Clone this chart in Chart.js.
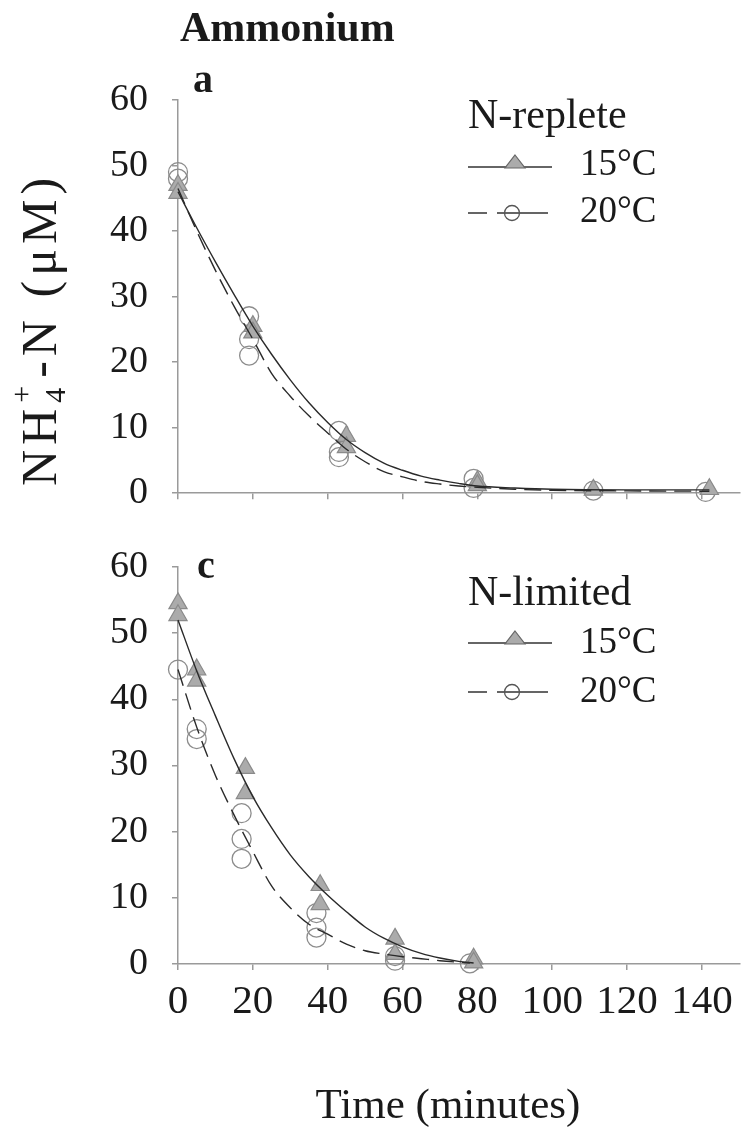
<!DOCTYPE html>
<html><head><meta charset="utf-8">
<script src="https://cdn.jsdelivr.net/npm/chart.js@4.4.0/dist/chart.umd.min.js"></script>
<style>
html,body{margin:0;padding:0;background:#fff;}
body{width:751px;height:1138px;position:relative;overflow:hidden;}
.wrap{position:absolute;left:0;width:751px;}
#w1{top:0;height:540px;}
#w2{top:520px;height:618px;}
canvas{display:block;}
</style></head><body>
<div class="wrap" id="w1"><canvas id="c1" width="751" height="540"></canvas></div>
<div class="wrap" id="w2"><canvas id="c2" width="751" height="618"></canvas></div>
<script>
// ---- tick labels ----
const xTicks = [0, 20, 40, 60, 80, 100, 120, 140];
const yTicks = [0, 10, 20, 30, 40, 50, 60];

// ---- panel a : N-replete ----
const repT15 = [0, 0, 20, 20, 45, 45, 80, 80, 111, 142];
const repN15 = [47, 45.8, 25.5, 24.5, 8.7, 7, 1.8, 1.2, 0.5, 0.6];
const repT20 = [0, 0, 19, 19, 19, 43, 43, 43, 79, 79, 111, 141];
const repN20 = [49, 48, 27, 23.5, 21, 9.5, 6.3, 5.5, 2.2, 0.8, 0.4, 0.2];
const repFitT15 = [0, 5, 10, 15, 20, 25, 30, 35, 40, 45, 50, 55, 60, 65, 70, 75, 80, 90, 100, 120, 142];
const repFitN15 = [46, 40.5, 35.3, 30.3, 25.5, 21.2, 17.3, 13.8, 10.8, 8.2, 6.2, 4.6, 3.5, 2.6, 2.0, 1.5, 1.1, 0.8, 0.6, 0.5, 0.5];
const repFitT20 = [0, 5, 10, 15, 20, 25, 30, 35, 40, 45, 50, 55, 60, 65, 70, 75, 80, 90, 100, 120, 142];
const repFitN20 = [46.5, 40, 34, 28.5, 23.5, 18.3, 14.8, 11.8, 9.2, 6.7, 4.8, 3.3, 2.5, 1.8, 1.4, 1.1, 0.9, 0.6, 0.45, 0.35, 0.3];

// ---- panel c : N-limited ----
const limT15 = [0, 0, 5, 5, 18, 18, 38, 38, 58, 58, 79, 79];
const limN15 = [54.5, 52.7, 44.5, 42.8, 29.6, 25.8, 11.9, 9, 3.8, 1.5, 0.8, 0.2];
const limT20 = [0, 5, 5, 17, 17, 17, 37, 37, 37, 58, 58, 78];
const limN20 = [44.5, 35.5, 34, 22.8, 18.9, 15.9, 7.7, 5.5, 4, 1.2, 0.5, 0.1];
const limFitT15 = [0, 5, 10, 15, 20, 25, 30, 35, 40, 45, 50, 55, 60, 65, 70, 75, 79];
const limFitN15 = [52, 44.3, 37.5, 31, 25.3, 20.6, 16.5, 13.2, 10.4, 7.9, 5.6, 3.9, 2.6, 1.6, 0.9, 0.4, 0.15];
const limFitT20 = [0, 5, 10, 15, 20, 25, 30, 35, 40, 45, 50, 55, 60, 65, 70, 78];
const limFitN20 = [44.5, 35.8, 28.5, 22.5, 17, 11.8, 8.5, 6.0, 4.5, 3.0, 2.0, 1.5, 1.1, 0.8, 0.5, 0.15];

const seriesLabels = ['15°C', '20°C'];

const SERIF = "'Liberation Serif', 'Times New Roman', serif";
const AXIS = '#9a9a9a';
const INK = '#1a1a1a';

function pts(xs, ys) { return xs.map((x, i) => ({ x: x, y: ys[i] })); }

// decorations: titles, panel letters, rich y title, custom legend
const decor = {
  id: 'decor',
  afterDraw(chart, args, o) {
    const ctx = chart.ctx;
    ctx.save();
    ctx.fillStyle = INK;
    (o.texts || []).forEach(t => {
      ctx.font = t.font;
      ctx.textAlign = t.align || 'left';
      ctx.textBaseline = t.baseline || 'alphabetic';
      ctx.fillText(t.text, t.x, t.y);
    });
    if (o.ytitle) {
      const yt = o.ytitle;
      ctx.save();
      ctx.translate(yt.x, yt.y);
      ctx.rotate(-Math.PI / 2);
      ctx.textAlign = 'left';
      ctx.textBaseline = 'alphabetic';
      try { ctx.letterSpacing = yt.spacing + 'px'; } catch (e) {}
      ctx.font = yt.size + 'px ' + SERIF;
      let cx = 0;
      ctx.fillText('NH', cx, 0);
      cx += ctx.measureText('NH').width;
      ctx.font = Math.round(yt.size * 0.6) + 'px ' + SERIF;
      ctx.fillText('4', cx + 1, yt.size * 0.18);
      ctx.fillText('+', cx + 1, -yt.size * 0.5);
      cx += ctx.measureText('4').width + 6;
      ctx.font = yt.size + 'px ' + SERIF;
      ctx.fillText('-N (\u03bcM)', cx, 0);
      ctx.restore();
    }
    if (o.legend) {
      const L = o.legend;
      ctx.font = L.titleFont;
      ctx.textAlign = 'left';
      ctx.textBaseline = 'middle';
      ctx.fillText(L.title, L.x, L.titleY);
      L.rows.forEach((r, i) => {
        ctx.strokeStyle = '#333';
        ctx.lineWidth = 1.4;
        if (r.kind === 'tri') {
          ctx.beginPath();
          ctx.moveTo(L.x, r.y); ctx.lineTo(L.x + 84, r.y); ctx.stroke();
          ctx.beginPath();
          ctx.moveTo(L.x + 47, r.y - 12);
          ctx.lineTo(L.x + 57, r.y + 1);
          ctx.lineTo(L.x + 37, r.y + 1);
          ctx.closePath();
          ctx.fillStyle = '#ababab';
          ctx.fill();
          ctx.strokeStyle = '#666';
          ctx.lineWidth = 1.2;
          ctx.stroke();
        } else {
          ctx.beginPath();
          ctx.moveTo(L.x, r.y); ctx.lineTo(L.x + 19, r.y);
          ctx.moveTo(L.x + 29, r.y); ctx.lineTo(L.x + 80, r.y);
          ctx.stroke();
          ctx.beginPath();
          ctx.arc(L.x + 44, r.y, 7.5, 0, Math.PI * 2);
          ctx.strokeStyle = '#555';
          ctx.lineWidth = 1.3;
          ctx.stroke();
        }
        ctx.fillStyle = INK;
        ctx.font = L.rowFont;
        ctx.textBaseline = 'middle';
        ctx.fillText(seriesLabels[i], L.x + 112, r.textY);
      });
    }
    ctx.restore();
  }
};

function makeChart(id, p) {
  const ds = [
    { label: seriesLabels[0] + ' fit', data: pts(p.fitT15, p.fitN15), showLine: true, borderColor: '#2a2a2a', borderWidth: 1.4, pointRadius: 0, cubicInterpolationMode: 'monotone', fill: false, clip: false },
    { label: seriesLabels[1] + ' fit', data: pts(p.fitT20, p.fitN20), showLine: true, borderColor: '#2a2a2a', borderWidth: 1.4, borderDash: [17, 8], pointRadius: 0, cubicInterpolationMode: 'monotone', fill: false, clip: false },
    { label: seriesLabels[0], data: pts(p.t15, p.n15), showLine: false, pointStyle: 'triangle', pointRadius: 10.5, pointBackgroundColor: '#ababab', pointBorderColor: '#8a8a8a', pointBorderWidth: 1.2, clip: false },
    { label: seriesLabels[1], data: pts(p.t20, p.n20), showLine: false, pointStyle: 'circle', pointRadius: 9.5, pointBackgroundColor: 'rgba(255,255,255,0)', pointBorderColor: '#8c8c8c', pointBorderWidth: 1.3, clip: false }
  ];
  const tickFont = { family: SERIF, size: 38 };
  const xTickFont = { family: SERIF, size: 41 };
  return new Chart(document.getElementById(id), {
    type: 'scatter',
    data: { datasets: ds },
    options: {
      responsive: false, animation: false, devicePixelRatio: 1,
      layout: { padding: { left: 0, right: 1, top: p.top, bottom: 0 } },
      plugins: { legend: { display: false }, tooltip: { enabled: false }, decor: p.decor },
      scales: {
        x: {
          type: 'linear', min: 0, max: 150,
          afterBuildTicks: s => { s.ticks = xTicks.map(v => ({ value: v })); },
          afterFit: s => { s.height = p.xAxisHeight; },
          grid: { drawOnChartArea: false, drawTicks: true, tickLength: 6, color: AXIS, lineWidth: 1.5 },
          border: { display: true, color: AXIS, width: 1.5 },
          ticks: { display: p.showX, font: xTickFont, color: INK, padding: 8, maxRotation: 0, autoSkip: false }
        },
        y: {
          type: 'linear', min: 0, max: 60,
          afterBuildTicks: s => { s.ticks = yTicks.map(v => ({ value: v })); },
          afterFit: s => { s.width = 178; },
          grid: { drawOnChartArea: false, drawTicks: true, tickLength: 6, color: AXIS, lineWidth: 1.5 },
          border: { display: true, color: AXIS, width: 1.5 },
          ticks: { font: tickFont, color: INK, padding: 24 }
        }
      }
    },
    plugins: [decor]
  });
}

makeChart('c1', {
  t15: repT15, n15: repN15, t20: repT20, n20: repN20,
  fitT15: repFitT15, fitN15: repFitN15, fitT20: repFitT20, fitN20: repFitN20,
  top: 100, xAxisHeight: 43, showX: false,
  decor: {
    texts: [
      { text: 'Ammonium', x: 180, y: 41, font: 'bold 42px ' + SERIF },
      { text: 'a', x: 193, y: 92, font: 'bold 40px ' + SERIF }
    ],
    ytitle: { x: 56, y: 486, size: 50, spacing: 5 },
    legend: { x: 468, title: 'N-replete', titleY: 117, titleFont: '42px ' + SERIF, rowFont: '37px ' + SERIF,
      rows: [{ kind: 'tri', y: 167, textY: 165 }, { kind: 'circ', y: 213, textY: 212 }] }
  }
});

makeChart('c2', {
  t15: limT15, n15: limN15, t20: limT20, n20: limN20,
  fitT15: limFitT15, fitN15: limFitN15, fitT20: limFitT20, fitN20: limFitN20,
  top: 47, xAxisHeight: 174, showX: true,
  decor: {
    texts: [
      { text: 'c', x: 197, y: 58, font: 'bold 40px ' + SERIF },
      { text: 'Time (minutes)', x: 448, y: 587, font: '43px ' + SERIF, align: 'center', baseline: 'middle' }
    ],
    ytitle: { x: 56, y: 953, size: 50, spacing: 5 },
    legend: { x: 468, title: 'N-limited', titleY: 74, titleFont: '42px ' + SERIF, rowFont: '37px ' + SERIF,
      rows: [{ kind: 'tri', y: 123, textY: 123 }, { kind: 'circ', y: 172, textY: 172 }] }
  }
});
</script></body></html>
